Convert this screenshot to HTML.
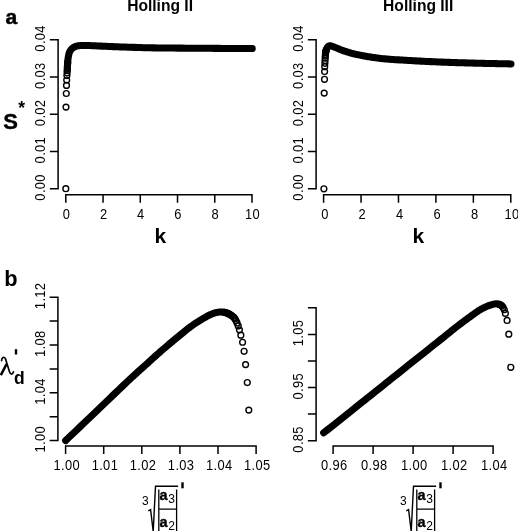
<!DOCTYPE html>
<html><head><meta charset="utf-8"><style>
html,body{margin:0;padding:0;background:#fff;overflow:hidden;}
svg{display:block;will-change:transform;}
text{font-family:"Liberation Sans",sans-serif;fill:#000;}
.tl{font-size:12.9px;letter-spacing:0.35px;}
.ttl{font-size:15.6px;font-weight:bold;}
.pl{font-size:21px;font-weight:bold;}
.big{font-size:21px;font-weight:bold;}
.ast{font-size:17.5px;font-weight:bold;}
.lam1{fill:none;stroke:#000;stroke-width:1.7;stroke-linecap:round;}.lam2{fill:none;stroke:#000;stroke-width:2.6;stroke-linecap:butt;}
.dd{font-size:17.5px;font-weight:bold;}
.idx{font-size:12px;}
.ab{font-size:14.5px;font-weight:bold;stroke:#000;stroke-width:0.35px;}
.sub{font-size:12px;}
.ax{fill:none;stroke:#000;stroke-width:1.5;stroke-linecap:square;}
.pt circle{fill:none;stroke:#000;stroke-width:1.4;}
.band{fill:none;stroke:#000;stroke-width:7.05;stroke-linecap:round;stroke-linejoin:round;}
.rad{fill:none;stroke:#000;stroke-width:1.4;}
.bar{fill:none;stroke:#000;stroke-width:1.3;}
.pr{fill:none;stroke:#000;stroke-width:2.4;}
</style></head><body>
<svg width="518" height="531" viewBox="0 0 518 531">
<path class="ax" d="M58.1,188.7 L58.1,39.7 M50.6,188.7 L58.1,188.7 M50.6,151.45 L58.1,151.45 M50.6,114.19999999999999 L58.1,114.19999999999999 M50.6,76.94999999999999 L58.1,76.94999999999999 M50.6,39.69999999999999 L58.1,39.69999999999999"/><text class="tl" transform="translate(44.80,187.40) rotate(-90) scale(1,1.07)" text-anchor="middle">0.00</text><text class="tl" transform="translate(44.80,150.15) rotate(-90) scale(1,1.07)" text-anchor="middle">0.01</text><text class="tl" transform="translate(44.80,112.90) rotate(-90) scale(1,1.07)" text-anchor="middle">0.02</text><text class="tl" transform="translate(44.80,75.65) rotate(-90) scale(1,1.07)" text-anchor="middle">0.03</text><text class="tl" transform="translate(44.80,38.40) rotate(-90) scale(1,1.07)" text-anchor="middle">0.04</text><path class="ax" d="M65.8,194.8 L252.0,194.8 M65.8,194.8 L65.8,202.0 M103.03999999999999,194.8 L103.03999999999999,202.0 M140.28,194.8 L140.28,202.0 M177.51999999999998,194.8 L177.51999999999998,202.0 M214.76,194.8 L214.76,202.0 M252.0,194.8 L252.0,202.0"/><text class="tl" transform="translate(66.40,219.00) scale(1,1.07)" text-anchor="middle">0</text><text class="tl" transform="translate(103.64,219.00) scale(1,1.07)" text-anchor="middle">2</text><text class="tl" transform="translate(140.88,219.00) scale(1,1.07)" text-anchor="middle">4</text><text class="tl" transform="translate(178.12,219.00) scale(1,1.07)" text-anchor="middle">6</text><text class="tl" transform="translate(215.36,219.00) scale(1,1.07)" text-anchor="middle">8</text><text class="tl" transform="translate(252.60,219.00) scale(1,1.07)" text-anchor="middle">10</text><path class="ax" d="M316.1,188.7 L316.1,39.7 M308.6,188.7 L316.1,188.7 M308.6,151.45 L316.1,151.45 M308.6,114.19999999999999 L316.1,114.19999999999999 M308.6,76.94999999999999 L316.1,76.94999999999999 M308.6,39.69999999999999 L316.1,39.69999999999999"/><text class="tl" transform="translate(302.80,187.40) rotate(-90) scale(1,1.07)" text-anchor="middle">0.00</text><text class="tl" transform="translate(302.80,150.15) rotate(-90) scale(1,1.07)" text-anchor="middle">0.01</text><text class="tl" transform="translate(302.80,112.90) rotate(-90) scale(1,1.07)" text-anchor="middle">0.02</text><text class="tl" transform="translate(302.80,75.65) rotate(-90) scale(1,1.07)" text-anchor="middle">0.03</text><text class="tl" transform="translate(302.80,38.40) rotate(-90) scale(1,1.07)" text-anchor="middle">0.04</text><path class="ax" d="M323.6,194.8 L510.8,194.8 M323.6,194.8 L323.6,202.0 M361.04,194.8 L361.04,202.0 M398.48,194.8 L398.48,202.0 M435.92,194.8 L435.92,202.0 M473.36,194.8 L473.36,202.0 M510.8,194.8 L510.8,202.0"/><text class="tl" transform="translate(324.90,219.00) scale(1,1.07)" text-anchor="middle">0</text><text class="tl" transform="translate(362.34,219.00) scale(1,1.07)" text-anchor="middle">2</text><text class="tl" transform="translate(399.78,219.00) scale(1,1.07)" text-anchor="middle">4</text><text class="tl" transform="translate(437.22,219.00) scale(1,1.07)" text-anchor="middle">6</text><text class="tl" transform="translate(474.66,219.00) scale(1,1.07)" text-anchor="middle">8</text><text class="tl" transform="translate(512.10,219.00) scale(1,1.07)" text-anchor="middle">10</text><path class="ax" d="M57.9,440.6 L57.9,297.20000000000005 M50.4,440.6 L57.9,440.6 M50.4,416.70000000000005 L57.9,416.70000000000005 M50.4,392.8 L57.9,392.8 M50.4,368.90000000000003 L57.9,368.90000000000003 M50.4,345.0 L57.9,345.0 M50.4,321.1 L57.9,321.1 M50.4,297.20000000000005 L57.9,297.20000000000005"/><text class="tl" transform="translate(44.80,439.30) rotate(-90) scale(1,1.07)" text-anchor="middle">1.00</text><text class="tl" transform="translate(44.80,391.50) rotate(-90) scale(1,1.07)" text-anchor="middle">1.04</text><text class="tl" transform="translate(44.80,343.70) rotate(-90) scale(1,1.07)" text-anchor="middle">1.08</text><text class="tl" transform="translate(44.80,295.90) rotate(-90) scale(1,1.07)" text-anchor="middle">1.12</text><path class="ax" d="M65.6,446.1 L256.1,446.1 M65.6,446.1 L65.6,453.3 M103.69999999999999,446.1 L103.69999999999999,453.3 M141.8,446.1 L141.8,453.3 M179.9,446.1 L179.9,453.3 M218.0,446.1 L218.0,453.3 M256.1,446.1 L256.1,453.3"/><text class="tl" transform="translate(66.80,469.80) scale(1,1.07)" text-anchor="middle">1.00</text><text class="tl" transform="translate(104.90,469.80) scale(1,1.07)" text-anchor="middle">1.01</text><text class="tl" transform="translate(143.00,469.80) scale(1,1.07)" text-anchor="middle">1.02</text><text class="tl" transform="translate(181.10,469.80) scale(1,1.07)" text-anchor="middle">1.03</text><text class="tl" transform="translate(219.20,469.80) scale(1,1.07)" text-anchor="middle">1.04</text><text class="tl" transform="translate(257.30,469.80) scale(1,1.07)" text-anchor="middle">1.05</text><path class="ax" d="M316.1,440.7 L316.1,307.8 M308.6,440.7 L316.1,440.7 M308.6,414.12 L316.1,414.12 M308.6,387.53999999999996 L316.1,387.53999999999996 M308.6,360.96 L316.1,360.96 M308.6,334.38 L316.1,334.38 M308.6,307.8 L316.1,307.8"/><text class="tl" transform="translate(302.80,439.40) rotate(-90) scale(1,1.07)" text-anchor="middle">0.85</text><text class="tl" transform="translate(302.80,386.24) rotate(-90) scale(1,1.07)" text-anchor="middle">0.95</text><text class="tl" transform="translate(302.80,333.08) rotate(-90) scale(1,1.07)" text-anchor="middle">1.05</text><path class="ax" d="M333.1,446.1 L493.1,446.1 M333.1,446.1 L333.1,453.3 M373.1,446.1 L373.1,453.3 M413.1,446.1 L413.1,453.3 M453.1,446.1 L453.1,453.3 M493.1,446.1 L493.1,453.3"/><text class="tl" transform="translate(334.30,469.80) scale(1,1.07)" text-anchor="middle">0.96</text><text class="tl" transform="translate(374.30,469.80) scale(1,1.07)" text-anchor="middle">0.98</text><text class="tl" transform="translate(414.30,469.80) scale(1,1.07)" text-anchor="middle">1.00</text><text class="tl" transform="translate(454.30,469.80) scale(1,1.07)" text-anchor="middle">1.02</text><text class="tl" transform="translate(494.30,469.80) scale(1,1.07)" text-anchor="middle">1.04</text>
<path d="M67.69,62.45 L67.75,61.72 L67.82,60.89 L67.90,60.07 L67.98,59.26 L68.08,58.48 L68.18,57.72 L68.30,57.00 L68.40,56.44 L68.50,55.90 L68.61,55.36 L68.71,54.84 L68.83,54.33 L68.96,53.84 L69.09,53.36 L69.25,52.89 L69.41,52.44 L69.60,52.00 L69.78,51.63 L69.96,51.27 L70.16,50.93 L70.37,50.59 L70.59,50.26 L70.82,49.94 L71.05,49.64 L71.30,49.35 L71.54,49.07 L71.80,48.80 L72.04,48.57 L72.29,48.34 L72.54,48.13 L72.80,47.93 L73.07,47.73 L73.35,47.55 L73.63,47.38 L73.91,47.21 L74.20,47.05 L74.50,46.90 L74.82,46.75 L75.14,46.61 L75.46,46.48 L75.79,46.36 L76.13,46.25 L76.47,46.14 L76.83,46.05 L77.21,45.96 L77.59,45.88 L78.00,45.80 L78.58,45.71 L79.19,45.64 L79.81,45.59 L80.46,45.55 L81.14,45.53 L81.85,45.51 L82.58,45.50 L83.35,45.50 L84.16,45.50 L85.00,45.50 L86.46,45.51 L88.07,45.55 L89.80,45.60 L91.62,45.67 L93.51,45.76 L95.44,45.85 L97.37,45.94 L99.30,46.04 L101.18,46.12 L103.00,46.20 L104.70,46.27 L106.35,46.34 L107.98,46.41 L109.60,46.48 L111.23,46.55 L112.88,46.62 L114.56,46.69 L116.30,46.76 L118.11,46.83 L120.00,46.90 L122.64,46.99 L125.39,47.09 L128.24,47.19 L131.18,47.29 L134.20,47.38 L137.28,47.48 L140.42,47.57 L143.59,47.65 L146.79,47.73 L150.00,47.80 L153.77,47.87 L157.63,47.93 L161.58,47.98 L165.59,48.02 L169.64,48.05 L173.72,48.08 L177.82,48.11 L181.91,48.14 L185.97,48.17 L190.00,48.20 L194.05,48.23 L198.19,48.26 L202.37,48.29 L206.56,48.31 L210.73,48.34 L214.84,48.36 L218.85,48.38 L222.74,48.41 L226.47,48.43 L230.00,48.45 L232.49,48.47 L234.87,48.48 L237.17,48.50 L239.39,48.51 L241.55,48.53 L243.69,48.54 L245.81,48.56 L247.94,48.57 L250.10,48.59 L252.30,48.60" class="band"/><path d="M326.30,49.84 L326.34,49.72 L326.47,49.35 L326.60,49.00 L326.71,48.72 L326.83,48.44 L326.95,48.17 L327.08,47.91 L327.21,47.65 L327.35,47.41 L327.50,47.18 L327.65,46.97 L327.82,46.77 L328.00,46.60 L328.17,46.46 L328.34,46.34 L328.51,46.22 L328.70,46.12 L328.89,46.03 L329.09,45.96 L329.30,45.89 L329.52,45.85 L329.75,45.82 L330.00,45.80 L330.47,45.83 L330.99,45.92 L331.56,46.08 L332.17,46.28 L332.80,46.51 L333.45,46.77 L334.10,47.04 L334.75,47.31 L335.39,47.57 L336.00,47.80 L336.60,48.03 L337.20,48.26 L337.80,48.50 L338.40,48.75 L339.00,49.00 L339.60,49.25 L340.20,49.50 L340.80,49.74 L341.40,49.97 L342.00,50.20 L342.60,50.42 L343.20,50.63 L343.79,50.84 L344.39,51.04 L344.99,51.24 L345.59,51.44 L346.19,51.63 L346.80,51.82 L347.40,52.01 L348.00,52.20 L348.60,52.38 L349.20,52.57 L349.80,52.75 L350.39,52.92 L350.99,53.10 L351.59,53.27 L352.19,53.44 L352.80,53.60 L353.40,53.75 L354.00,53.90 L354.60,54.04 L355.20,54.17 L355.80,54.30 L356.40,54.41 L357.00,54.53 L357.60,54.64 L358.20,54.76 L358.80,54.87 L359.40,54.98 L360.00,55.10 L360.59,55.22 L361.17,55.34 L361.73,55.46 L362.30,55.58 L362.87,55.70 L363.45,55.82 L364.05,55.94 L364.67,56.06 L365.32,56.18 L366.00,56.30 L367.03,56.48 L368.13,56.66 L369.29,56.85 L370.50,57.04 L371.74,57.23 L373.00,57.42 L374.27,57.60 L375.53,57.78 L376.78,57.94 L378.00,58.10 L379.19,58.25 L380.36,58.38 L381.52,58.51 L382.68,58.64 L383.84,58.75 L385.02,58.87 L386.22,58.98 L387.44,59.09 L388.70,59.19 L390.00,59.30 L391.66,59.43 L393.38,59.55 L395.16,59.66 L396.99,59.78 L398.84,59.88 L400.70,59.99 L402.56,60.09 L404.41,60.20 L406.23,60.30 L408.00,60.40 L409.62,60.50 L411.21,60.59 L412.78,60.68 L414.33,60.77 L415.88,60.86 L417.44,60.95 L419.02,61.04 L420.63,61.13 L422.29,61.21 L424.00,61.30 L426.13,61.40 L428.33,61.51 L430.59,61.62 L432.90,61.72 L435.24,61.82 L437.60,61.93 L439.97,62.02 L442.33,62.12 L444.68,62.21 L447.00,62.30 L449.31,62.38 L451.63,62.46 L453.95,62.54 L456.28,62.61 L458.60,62.68 L460.92,62.75 L463.22,62.81 L465.50,62.88 L467.76,62.94 L470.00,63.00 L472.05,63.06 L474.08,63.11 L476.09,63.16 L478.08,63.22 L480.06,63.27 L482.03,63.31 L484.01,63.36 L485.99,63.41 L487.99,63.46 L490.00,63.50 L492.08,63.54 L494.17,63.59 L496.26,63.63 L498.36,63.67 L500.47,63.71 L502.58,63.75 L504.68,63.78 L506.79,63.82 L508.90,63.86 L511.00,63.90" class="band"/><path d="M224.01,312.25 L223.65,312.18 L223.28,312.13 L222.90,312.08 L222.51,312.04 L222.11,312.02 L221.70,312.00 L221.18,311.99 L220.63,312.00 L220.08,312.03 L219.50,312.07 L218.92,312.12 L218.33,312.19 L217.75,312.27 L217.16,312.36 L216.57,312.47 L216.00,312.60 L215.40,312.75 L214.82,312.91 L214.24,313.09 L213.66,313.28 L213.08,313.49 L212.49,313.72 L211.89,313.96 L211.28,314.23 L210.65,314.50 L210.00,314.80 L209.09,315.23 L208.14,315.71 L207.16,316.23 L206.15,316.78 L205.13,317.35 L204.09,317.95 L203.05,318.56 L202.02,319.17 L201.00,319.79 L200.00,320.40 L199.00,321.02 L198.01,321.64 L197.03,322.26 L196.06,322.89 L195.09,323.53 L194.10,324.19 L193.11,324.87 L192.10,325.58 L191.06,326.32 L190.00,327.10 L188.60,328.15 L187.16,329.27 L185.69,330.44 L184.18,331.66 L182.65,332.92 L181.12,334.19 L179.57,335.48 L178.03,336.77 L176.51,338.05 L175.00,339.30 L173.49,340.55 L171.99,341.80 L170.48,343.06 L168.98,344.32 L167.48,345.59 L165.98,346.86 L164.48,348.13 L162.99,349.41 L161.49,350.70 L160.00,352.00 L158.49,353.32 L156.99,354.66 L155.48,356.00 L153.98,357.35 L152.49,358.71 L150.99,360.06 L149.49,361.42 L148.00,362.78 L146.50,364.14 L145.00,365.50 L143.52,366.83 L142.08,368.13 L140.65,369.41 L139.23,370.68 L137.80,371.96 L136.35,373.27 L134.86,374.63 L133.31,376.04 L131.70,377.53 L130.00,379.10 L127.42,381.52 L124.68,384.11 L121.80,386.85 L118.82,389.71 L115.76,392.65 L112.63,395.66 L109.47,398.71 L106.29,401.77 L103.13,404.80 L100.00,407.80 L96.66,410.99 L93.27,414.22 L89.85,417.48 L86.41,420.76 L82.95,424.06 L79.47,427.38 L75.99,430.69 L72.52,434.01 L69.05,437.31 L65.60,440.60" class="band"/><path d="M499.00,304.24 L498.80,304.18 L498.50,304.10 L498.18,304.02 L497.86,303.96 L497.53,303.91 L497.20,303.87 L496.87,303.84 L496.52,303.82 L496.16,303.82 L495.79,303.83 L495.41,303.86 L495.00,303.90 L494.33,304.00 L493.59,304.15 L492.82,304.33 L492.01,304.55 L491.17,304.80 L490.32,305.07 L489.47,305.37 L488.62,305.67 L487.80,305.98 L487.00,306.30 L486.21,306.63 L485.44,306.97 L484.67,307.34 L483.91,307.71 L483.15,308.10 L482.39,308.51 L481.63,308.94 L480.86,309.37 L480.08,309.83 L479.30,310.30 L478.40,310.86 L477.49,311.45 L476.58,312.06 L475.67,312.70 L474.75,313.35 L473.82,314.02 L472.89,314.70 L471.94,315.39 L470.98,316.09 L470.00,316.80 L468.86,317.62 L467.70,318.46 L466.53,319.32 L465.34,320.19 L464.14,321.07 L462.92,321.98 L461.70,322.89 L460.47,323.81 L459.24,324.75 L458.00,325.70 L456.67,326.73 L455.38,327.74 L454.11,328.75 L452.84,329.77 L451.54,330.82 L450.21,331.90 L448.80,333.04 L447.31,334.24 L445.72,335.52 L444.00,336.90 L440.57,339.63 L436.70,342.72 L432.46,346.09 L427.95,349.69 L423.26,353.43 L418.46,357.24 L413.65,361.08 L408.91,364.85 L404.33,368.50 L400.00,371.95 L396.26,374.93 L392.60,377.86 L389.00,380.73 L385.44,383.58 L381.90,386.40 L378.37,389.22 L374.84,392.05 L371.27,394.89 L367.67,397.77 L364.00,400.70 L360.06,403.84 L356.08,407.02 L352.07,410.21 L348.03,413.43 L343.97,416.66 L339.90,419.90 L335.83,423.15 L331.76,426.39 L327.70,429.63 L323.65,432.85" class="band"/>
<g class="pt"><circle cx="65.8" cy="188.7" r="2.9"/><circle cx="323.9" cy="188.8" r="2.9"/><circle cx="66.00" cy="107.10" r="2.9"/><circle cx="66.30" cy="93.50" r="2.9"/><circle cx="66.50" cy="85.41" r="2.9"/><circle cx="66.70" cy="80.01" r="2.9"/><circle cx="66.90" cy="75.61" r="2.9"/><circle cx="67.10" cy="72.72" r="2.9"/><circle cx="67.21" cy="70.52" r="2.9"/><circle cx="67.29" cy="68.63" r="2.9"/><circle cx="67.37" cy="67.03" r="2.9"/><circle cx="67.46" cy="65.63" r="2.9"/><circle cx="67.54" cy="64.43" r="2.9"/><circle cx="67.62" cy="63.39" r="2.9"/><circle cx="67.69" cy="62.45" r="2.9"/><circle cx="324.20" cy="93.10" r="2.9"/><circle cx="324.50" cy="79.30" r="2.9"/><circle cx="324.60" cy="71.50" r="2.9"/><circle cx="324.70" cy="66.71" r="2.9"/><circle cx="324.90" cy="63.31" r="2.9"/><circle cx="325.05" cy="60.52" r="2.9"/><circle cx="325.19" cy="58.12" r="2.9"/><circle cx="325.31" cy="56.12" r="2.9"/><circle cx="325.42" cy="54.43" r="2.9"/><circle cx="325.60" cy="52.99" r="2.9"/><circle cx="325.82" cy="51.76" r="2.9"/><circle cx="326.05" cy="50.73" r="2.9"/><circle cx="326.30" cy="49.84" r="2.9"/><circle cx="248.80" cy="410.10" r="2.9"/><circle cx="247.30" cy="382.54" r="2.9"/><circle cx="245.60" cy="364.62" r="2.9"/><circle cx="244.10" cy="351.31" r="2.9"/><circle cx="242.59" cy="342.23" r="2.9"/><circle cx="240.86" cy="335.14" r="2.9"/><circle cx="239.42" cy="329.83" r="2.9"/><circle cx="238.23" cy="325.91" r="2.9"/><circle cx="237.05" cy="322.94" r="2.9"/><circle cx="236.06" cy="320.75" r="2.9"/><circle cx="235.07" cy="318.91" r="2.9"/><circle cx="233.86" cy="317.45" r="2.9"/><circle cx="232.58" cy="316.31" r="2.9"/><circle cx="231.34" cy="315.37" r="2.9"/><circle cx="230.16" cy="314.58" r="2.9"/><circle cx="229.01" cy="313.94" r="2.9"/><circle cx="227.92" cy="313.43" r="2.9"/><circle cx="226.86" cy="313.03" r="2.9"/><circle cx="225.86" cy="312.70" r="2.9"/><circle cx="224.91" cy="312.45" r="2.9"/><circle cx="224.01" cy="312.25" r="2.9"/><circle cx="510.80" cy="367.30" r="2.9"/><circle cx="508.80" cy="334.16" r="2.9"/><circle cx="507.09" cy="320.47" r="2.9"/><circle cx="505.39" cy="313.38" r="2.9"/><circle cx="504.28" cy="309.75" r="2.9"/><circle cx="503.07" cy="307.45" r="2.9"/><circle cx="501.93" cy="305.97" r="2.9"/><circle cx="500.83" cy="305.08" r="2.9"/><circle cx="499.84" cy="304.56" r="2.9"/><circle cx="499.00" cy="304.24" r="2.9"/></g>
<text class="ttl" x="160.1" y="11.35" text-anchor="middle">Holling II</text><text class="ttl" x="418.2" y="11.35" text-anchor="middle">Holling III</text><text class="pl" x="5.4" y="24.3" style="stroke:#000;stroke-width:0.5px">a</text><text class="pl" x="4.2" y="286.4" style="font-size:21.8px">b</text><text class="big" x="3.3" y="129" style="font-size:22px;stroke:#000;stroke-width:0.4px">S</text><text class="ast" x="18.3" y="113.6">*</text><text class="big" x="160.4" y="243" text-anchor="middle">k</text><text class="big" x="418.4" y="243" text-anchor="middle">k</text><path class="lam1" d="M1.6,360.6 C1.5,357.6 4.4,355.8 5.7,359.4 L9.4,371.6 C10.4,374.8 12.6,375.2 13.4,371.9"/><path class="lam2" d="M0.8,375.2 L6.6,364.0"/><text class="dd" x="13.9" y="384.1">d</text><path class="pr" d="M16,349.2 L16,354.5"/><g transform="translate(0,0)"><text class="idx" x="141.9" y="504.6">3</text><path class="rad" d="M148.3,510.9 L150.6,509.6 L153.2,531.5 L155.5,486.3 L178.1,486.3"/><path class="bar" d="M158.8,489.6 L158.8,531 M176.6,489.6 L176.6,531 M158.8,509.1 L176.6,509.1"/><text class="ab" x="159.5" y="500.0">a</text><text class="sub" x="168.3" y="502.7">3</text><text class="ab" x="159.5" y="527.2">a</text><text class="sub" x="168.3" y="530.0">2</text><path class="pr" d="M182.5,482.3 L182.5,488.3"/></g><g transform="translate(258,0)"><text class="idx" x="141.9" y="504.6">3</text><path class="rad" d="M148.3,510.9 L150.6,509.6 L153.2,531.5 L155.5,486.3 L178.1,486.3"/><path class="bar" d="M158.8,489.6 L158.8,531 M176.6,489.6 L176.6,531 M158.8,509.1 L176.6,509.1"/><text class="ab" x="159.5" y="500.0">a</text><text class="sub" x="168.3" y="502.7">3</text><text class="ab" x="159.5" y="527.2">a</text><text class="sub" x="168.3" y="530.0">2</text><path class="pr" d="M182.5,482.3 L182.5,488.3"/></g>
</svg>
</body></html>
